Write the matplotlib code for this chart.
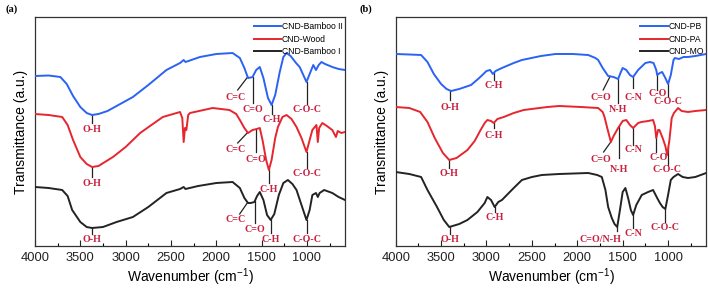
import numpy as np
import matplotlib
matplotlib.use("Agg")
import matplotlib.pyplot as plt
from matplotlib.ticker import MultipleLocator

plt.rcParams['font.family'] = ['Liberation Sans', 'DejaVu Sans']

# ---------------- data: panel (a) ----------------
bamboo2_wn = [4000, 3850, 3720, 3650, 3580, 3500, 3430, 3372, 3300, 3200, 3100, 2920, 2750, 2550, 2400, 2360, 2340,
              2180, 2000, 1820, 1740, 1690, 1650, 1620, 1600, 1560, 1520, 1480, 1430, 1390, 1350, 1300, 1260, 1225,
              1180, 1120, 1080, 1040, 1005, 970, 930, 900, 870, 840, 800, 720, 650, 580]
bamboo2_t = [170, 170.5, 169, 162, 150, 139, 133, 131, 132, 135, 140, 149, 161, 176, 183, 186, 184,
             189, 192, 193, 188, 178, 168, 168.5, 169, 176, 179, 168, 148, 141, 151, 174, 189, 193,
             190, 183, 179, 171, 164, 172, 181, 176, 181, 184, 182, 179, 177, 176]

wood_wn = [4000, 3850, 3700, 3640, 3580, 3500, 3430, 3370, 3300, 3140, 3000, 2840, 2700, 2590, 2400, 2375, 2360,
           2345, 2330, 2310, 2290, 2040, 1855, 1780, 1740, 1690, 1650, 1600, 1555, 1520, 1490, 1450, 1420, 1390,
           1350, 1320, 1270, 1225, 1170, 1115, 1060, 1005, 970, 940, 895, 880, 865, 830, 780, 720, 680, 660, 620, 580]
wood_t = [132, 131, 129, 121, 106, 89, 82, 79, 80, 89, 99, 113, 122, 129, 134, 128, 104,
          118, 116, 131, 133, 138, 136, 132, 126, 118, 113, 116, 117, 118, 106, 86, 76, 86,
          108, 119, 129, 131, 127, 119, 108, 94, 106, 116, 121, 104, 118, 123, 120, 116, 109, 115, 113, 114]

bamboo1_wn = [4000, 3850, 3700, 3640, 3590, 3500, 3430, 3370, 3250, 3100, 2920, 2750, 2550, 2400, 2360, 2340, 2200,
              2000, 1820, 1740, 1690, 1650, 1620, 1580, 1550, 1520, 1480, 1440, 1400, 1360, 1310, 1260, 1210, 1160,
              1115, 1060, 1005, 970, 940, 900, 880, 860, 810, 720, 650, 580]
bamboo1_t = [59, 58, 56, 50, 36, 24, 19, 18, 19, 24, 29, 39, 53, 57, 59, 57, 60,
             63, 64, 58, 48, 43, 43, 44, 50, 54, 46, 31, 26, 32, 51, 63, 66, 62,
             56, 41, 26, 36, 51, 53, 49, 53, 56, 53, 49, 46]

# ---------------- data: panel (b) ----------------
pb_wn = [4000, 3850, 3720, 3650, 3580, 3500, 3440, 3390, 3300, 3170, 3080, 3000, 2960, 2930, 2900, 2830, 2700, 2610,
         2400, 2240, 2050, 1880, 1800, 1770, 1720, 1660, 1600, 1550, 1520, 1500, 1460, 1420, 1385, 1330, 1250, 1200,
         1160, 1130, 1120, 1090, 1065, 1030, 1000, 970, 940, 925, 880, 830, 780, 700, 580]
pb_t = [192, 191.5, 191, 184, 172, 162, 157, 155, 157, 161, 168, 175, 176, 172, 175, 178, 183, 186,
        190, 192, 192, 191, 188, 186, 178, 170, 169, 167, 174, 178, 176, 171, 169, 176, 183, 184,
        183, 176, 171, 173, 174, 168, 162, 171, 186, 188, 187, 189, 189, 190, 192]

pa_wn = [4000, 3850, 3730, 3650, 3570, 3480, 3410, 3330, 3210, 3130, 3065, 3020, 2990, 2950, 2920, 2880, 2810, 2700,
         2590, 2330, 2200, 1960, 1770, 1720, 1700, 1670, 1630, 1600, 1550, 1500, 1460, 1420, 1385, 1330, 1295, 1220,
         1165, 1145, 1130, 1110, 1095, 1060, 1030, 1010, 985, 960, 935, 890, 850, 780, 700, 580]
pa_t = [139, 138, 134, 124, 108, 93, 86, 88, 96, 105, 116, 123, 126, 125, 123, 127, 129, 133,
        136, 139, 140, 139, 138, 134, 129, 118, 104, 110, 118, 125, 126, 121, 118, 123, 124, 125,
        126, 120, 108, 116, 116, 108, 100, 91, 106, 128, 133, 138, 135, 134, 135, 136]

mo_wn = [4000, 3850, 3720, 3650, 3545, 3470, 3410, 3300, 3210, 3100, 3020, 2990, 2950, 2910, 2870, 2830, 2700, 2610,
         2500, 2390, 2200, 1880, 1780, 1730, 1690, 1660, 1620, 1590, 1560, 1530, 1500, 1470, 1440, 1410, 1385, 1350,
         1290, 1220, 1165, 1120, 1090, 1060, 1030, 1000, 970, 940, 890, 840, 780, 700, 580]
mo_t = [74, 72, 69, 56, 39, 26, 19, 22, 26, 34, 43, 49, 46, 39, 44, 46, 58, 66,
        69, 71, 72, 73, 71, 69, 56, 39, 28, 22, 19, 36, 54, 58, 48, 36, 31, 41,
        51, 54, 56, 48, 43, 39, 37, 51, 66, 69, 72, 69, 68, 69, 73]

series_a = ["CND-Bamboo II", "CND-Wood", "CND-Bamboo I"]
series_b = ["CND-PB", "CND-PA", "CND-MO"]
x_ticks = [4000, 3500, 3000, 2500, 2000, 1500, 1000]

BLUE = '#2a62f4'
RED = '#e6262e'
BLACK = '#232323'
LBL = '#c8203e'

# annotations: (label, wn on curve, line-end wn, line-end T, text wn, text T)
ann_a = [
    (bamboo2_wn, bamboo2_t, [("O-H", 3372, 3372, 123, 3372, 117),
                             ("C=C", 1654, 1764, 156, 1790, 149),
                             ("C=O", 1599, 1599, 143, 1599, 137),
                             ("C-H", 1390, 1390, 132, 1390, 126),
                             ("C-O-C", 1004, 1004, 142, 1004, 136)]),
    (wood_wn, wood_t, [("O-H", 3372, 3372, 69, 3372, 62),
                       ("C=C", 1654, 1764, 103, 1790, 97),
                       ("C=O", 1566, 1566, 94, 1566, 86),
                       ("C-H", 1423, 1423, 63, 1423, 57),
                       ("C-O-C", 1004, 1004, 78, 1004, 72)]),
    (bamboo1_wn, bamboo1_t, [("O-H", 3372, 3372, 12, 3372, 6),
                             ("C=C", 1654, 1742, 32, 1790, 26),
                             ("C=O", 1577, 1577, 23, 1577, 17),
                             ("C-H", 1401, 1401, 13, 1401, 6),
                             ("C-O-C", 1004, 1004, 13, 1004, 6)]),
]
ann_b = [
    (pb_wn, pb_t, [("O-H", 3399, 3399, 146, 3399, 138),
                   ("C-H", 2922, 2922, 166, 2922, 160),
                   ("C=O", 1638, 1715, 156, 1745, 149),
                   ("N-H", 1550, 1550, 143, 1550, 137),
                   ("C-N", 1385, 1385, 158, 1385, 148),
                   ("C-O", 1117, 1117, 156, 1117, 152),
                   ("C-O-C", 996, 996, 149, 996, 144)]),
    (pa_wn, pa_t, [("O-H", 3410, 3410, 78, 3410, 72),
                   ("C-H", 2922, 2922, 118, 2922, 111),
                   ("C=O", 1628, 1710, 94, 1737, 86),
                   ("N-H", 1539, 1539, 88, 1539, 77),
                   ("C-N", 1385, 1385, 101, 1385, 96),
                   ("C-O", 1128, 1128, 94, 1106, 89),
                   ("C-O-C", 996, 996, 81, 1007, 77)]),
    (mo_wn, mo_t, [("O-H", 3399, 3399, 12, 3399, 6),
                   ("C-H", 2911, 2911, 34, 2911, 29),
                   ("C=O/N-H", 1561, 1561, 15, 1748, 6),
                   ("C-N", 1385, 1385, 18, 1385, 13),
                   ("C-O-C", 1029, 1029, 24, 1029, 19)]),
]

fig = plt.figure(figsize=(7.08, 2.90), dpi=100)
axa = fig.add_axes([35 / 708, 44 / 290, 310 / 708, 229 / 290])
axb = fig.add_axes([395.7 / 708, 44 / 290, 310.5 / 708, 229 / 290])


def style(ax):
    ax.set_xlim(4000, 580)
    ax.set_ylim(0, 229)
    ax.set_xticks(x_ticks)
    ax.xaxis.set_minor_locator(MultipleLocator(250))
    ax.set_yticks([])
    ax.tick_params(axis='x', which='major', direction='in', length=4, width=0.8,
                   labelsize=9.3, pad=4, colors='#222222')
    ax.tick_params(axis='x', which='minor', direction='in', length=2.5, width=0.8)
    for s in ax.spines.values():
        s.set_linewidth(0.9)
        s.set_color('#333333')
    ax.set_xlabel("Wavenumber (cm$^{\\mathregular{-1}}$)", fontsize=10, labelpad=2)
    ax.set_ylabel("Transmittance (a.u.)", fontsize=10, labelpad=5)


def annotate(ax, groups):
    for wn, t, items in groups:
        for lab, w0, w1, t1, wt, tt in items:
            t0 = np.interp(w0, wn[::-1], t[::-1])
            ax.plot([w0, w1], [t0, t1], color='#222222', lw=0.9, zorder=1)
            ax.text(wt, tt, lab, ha='center', va='center', color=LBL, fontsize=7.2,
                    fontweight='bold', family=['Liberation Serif', 'DejaVu Serif'])


style(axa)
axa.plot(bamboo2_wn, bamboo2_t, color=BLUE, lw=1.4, label=series_a[0], zorder=3)
axa.plot(wood_wn, wood_t, color=RED, lw=1.4, label=series_a[1], zorder=3)
axa.plot(bamboo1_wn, bamboo1_t, color=BLACK, lw=1.4, label=series_a[2], zorder=3)
annotate(axa, ann_a)
axa.legend(loc='upper right', bbox_to_anchor=(1.01, 1.0), frameon=False, fontsize=6.2,
           handlelength=3.2, handletextpad=0.1, labelspacing=0.4, borderaxespad=0.2)

style(axb)
axb.plot(pb_wn, pb_t, color=BLUE, lw=1.4, label=series_b[0], zorder=3)
axb.plot(pa_wn, pa_t, color=RED, lw=1.4, label=series_b[1], zorder=3)
axb.plot(mo_wn, mo_t, color=BLACK, lw=1.4, label=series_b[2], zorder=3)
annotate(axb, ann_b)
axb.legend(loc='upper right', bbox_to_anchor=(1.01, 1.0), frameon=False, fontsize=6.2,
           handlelength=3.2, handletextpad=0.1, labelspacing=0.4, borderaxespad=0.2)

fig.text(5 / 708, 1 - 9 / 290, "(a)", fontsize=7.5, fontweight='bold', va='center', ha='left',
         family=['Liberation Serif', 'DejaVu Serif'])
fig.text(360 / 708, 1 - 9 / 290, "(b)", fontsize=7.5, fontweight='bold', va='center', ha='left',
         family=['Liberation Serif', 'DejaVu Serif'])

fig.savefig("out.png", dpi=100)
